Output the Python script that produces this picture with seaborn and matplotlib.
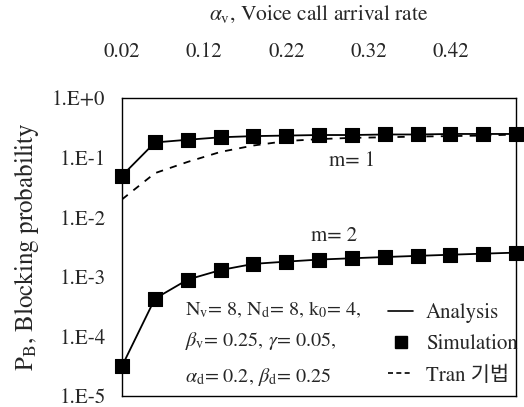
import numpy as np
import pandas as pd
import seaborn as sns
import matplotlib.pyplot as plt
from matplotlib.lines import Line2D
from matplotlib.ticker import FixedLocator, FuncFormatter

# Voice call arrival rate (x) and blocking probabilities
alpha_v = [0.02, 0.06, 0.10, 0.14, 0.18, 0.22, 0.26, 0.30, 0.34, 0.38, 0.42, 0.46, 0.50]
pb_m1 = [0.05, 0.18, 0.20, 0.22, 0.23, 0.235, 0.24, 0.24, 0.245, 0.245, 0.25, 0.25, 0.25]
pb_m1_tran = [0.02, 0.055, 0.085, 0.125, 0.16, 0.19, 0.205, 0.215, 0.22, 0.226, 0.23, 0.235, 0.245]
pb_m2 = [3.2e-5, 4.3e-4, 9.0e-4, 1.3e-3, 1.65e-3, 1.8e-3, 1.95e-3, 2.05e-3,
         2.15e-3, 2.25e-3, 2.35e-3, 2.45e-3, 2.55e-3]
x_ticks = [0.02, 0.12, 0.22, 0.32, 0.42]
y_ticks = [1e0, 1e-1, 1e-2, 1e-3, 1e-4, 1e-5]
y_tick_labels = ["1.E+0", "1.E-1", "1.E-2", "1.E-3", "1.E-4", "1.E-5"]

sns.set_theme(style="white")
plt.rcParams['font.family'] = ['STIXGeneral', 'Noto Sans CJK KR']
plt.rcParams['mathtext.fontset'] = 'stix'
FS = 15

df = pd.DataFrame({
    "alpha": alpha_v * 2,
    "pb": pb_m1 + pb_m2,
    "m": ["1"] * len(alpha_v) + ["2"] * len(alpha_v),
})
df_tran = pd.DataFrame({"alpha": alpha_v, "pb": pb_m1_tran})

fig = plt.figure(figsize=(5.24, 4.07), dpi=100)
# axes box: x 122..516 px, y 98..396 px
ax = fig.add_axes([0.233, 0.027, 0.752, 0.732])

# Analysis curves
sns.lineplot(data=df, x="alpha", y="pb", units="m", estimator=None,
             color="black", lw=1.3, ax=ax, legend=False)
# Tran method (dashed)
sns.lineplot(data=df_tran, x="alpha", y="pb", color="black", lw=1.3,
             linestyle=(0, (4, 4)), ax=ax, legend=False)
# Simulation points
sns.scatterplot(data=df, x="alpha", y="pb", marker="s", s=95, color="black",
                edgecolor="black", ax=ax, legend=False, clip_on=False, zorder=5)

ax.set_yscale("log")
ax.set_ylim(1e-5, 1e0)
ax.set_xlim(0.02, 0.50)

ax.yaxis.set_major_locator(FixedLocator(y_ticks))
ax.yaxis.set_major_formatter(FuncFormatter(lambda v, p: y_tick_labels[y_ticks.index(v)] if v in y_ticks else ""))
ax.yaxis.set_minor_locator(FixedLocator([]))
ax.xaxis.set_major_locator(FixedLocator(x_ticks))
ax.xaxis.set_major_formatter(FuncFormatter(lambda v, p: f"{v:.2f}"))
ax.xaxis.tick_top()
ax.xaxis.set_label_position("top")
ax.tick_params(axis="x", length=0, pad=26, labelsize=FS)
ax.tick_params(axis="y", length=0, pad=12, labelsize=FS)

ax.set_xlabel(r"$\alpha_\mathrm{v}$, Voice call arrival rate", fontsize=15.5, labelpad=16)
ax.set_ylabel(r"$\mathrm{P_B}$, Blocking probability", fontsize=18, labelpad=8)

for sp in ax.spines.values():
    sp.set_color("black")
    sp.set_linewidth(1.0)

ax.text(0.30, 0.089, "m= 1", fontsize=FS, ha="center", va="center")
ax.text(0.278, 0.0048, "m= 2", fontsize=FS, ha="center", va="center")

params = [r"$\mathrm{N_v}$= 8, $\mathrm{N_d}$= 8, $\mathrm{k_0}$= 4,",
          r"$\beta_\mathrm{v}$= 0.25, $\gamma$= 0.05,",
          r"$\alpha_\mathrm{d}$= 0.2, $\beta_\mathrm{d}$= 0.25"]
for txt, yy in zip(params, [0.288, 0.183, 0.065]):
    ax.text(0.160, yy, txt, transform=ax.transAxes, fontsize=14.5, va="center")

handles = [
    Line2D([], [], color="black", lw=1.2),
    Line2D([], [], color="black", marker="s", ls="none", markersize=8),
    Line2D([], [], color="black", lw=1.2, ls=(0, (3, 2))),
]
ax.legend(handles, ["Analysis", "Simulation", "Tran 기법"], loc="lower right",
          bbox_to_anchor=(1.03, 0.0), frameon=False, fontsize=FS,
          handlelength=1.2, handletextpad=0.6, labelspacing=0.55, borderaxespad=0.1)

fig.savefig("out.png", dpi=100, facecolor="white")
